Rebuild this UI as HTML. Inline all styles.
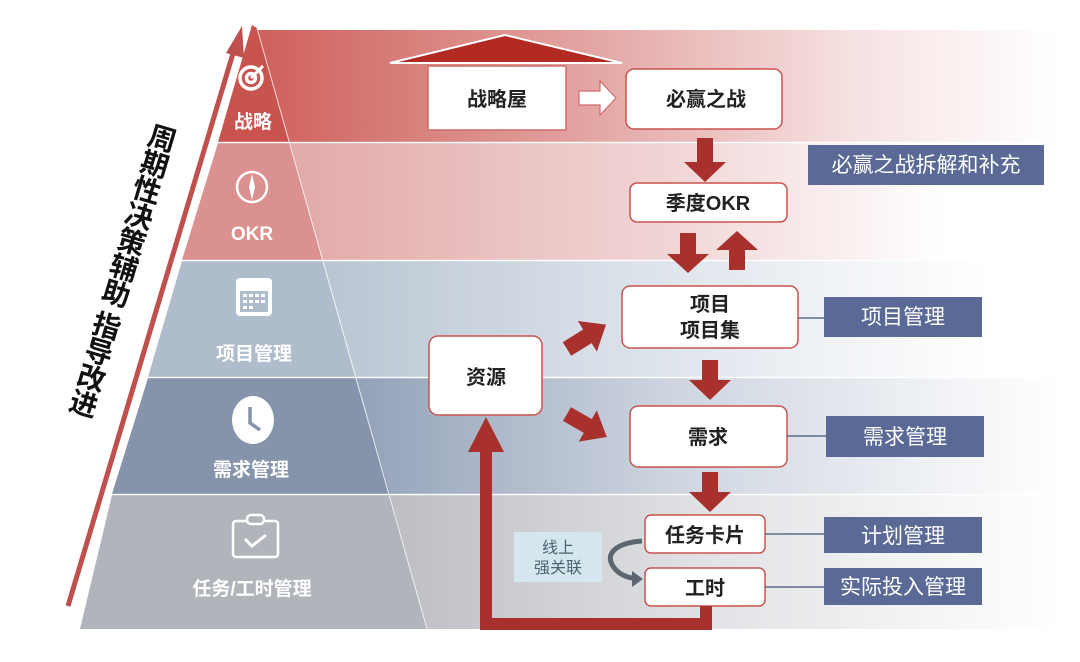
<!DOCTYPE html>
<html><head><meta charset="utf-8"><style>
html,body{margin:0;padding:0;background:#fff}
svg{display:block}
text{font-family:"Liberation Sans","Noto Sans CJK SC",sans-serif;font-weight:bold}
</style></head><body>
<svg width="1080" height="662" viewBox="0 0 1080 662" xmlns="http://www.w3.org/2000/svg">
<defs>
<linearGradient id="g1" x1="0" x2="1"><stop offset="0" stop-color="#cf605b"/><stop offset="0.35" stop-color="#df9a97"/><stop offset="0.75" stop-color="#f6e3e3"/><stop offset="1" stop-color="#fff"/></linearGradient>
<linearGradient id="g2" x1="0" x2="1"><stop offset="0" stop-color="#e2a9a8"/><stop offset="0.5" stop-color="#f1d6d6"/><stop offset="0.85" stop-color="#fff"/></linearGradient>
<linearGradient id="g3" x1="0" x2="1"><stop offset="0" stop-color="#b9c5d2"/><stop offset="0.5" stop-color="#e2e7ee"/><stop offset="0.9" stop-color="#fff"/></linearGradient>
<linearGradient id="g4" x1="0" x2="1"><stop offset="0" stop-color="#93a1b8"/><stop offset="0.45" stop-color="#ced5e0"/><stop offset="1" stop-color="#fff"/></linearGradient>
<linearGradient id="g5" x1="0" x2="1"><stop offset="0" stop-color="#bcbec4"/><stop offset="0.5" stop-color="#e3e4e7"/><stop offset="1" stop-color="#fff"/></linearGradient>
</defs>
<polygon points="257,30 1060,30 1060,142 290,142" fill="url(#g1)"/>
<rect x="290" y="143" width="770" height="117" fill="url(#g2)"/>
<rect x="320" y="261" width="740" height="116" fill="url(#g3)"/>
<rect x="355" y="378" width="705" height="116" fill="url(#g4)"/>
<rect x="390" y="495" width="670" height="134" fill="url(#g5)"/>
<polygon points="252,25 257,28 290,142 218,142" fill="#c9534f"/>
<polygon points="218,143 290,143 322,260 182,260" fill="#da9190"/>
<polygon points="182,261 322,261 355,377 148,377" fill="#aebccb"/>
<polygon points="148,378 355,378 390,494 112,494" fill="#8593ab"/>
<polygon points="112,495 390,495 427,629 80,629" fill="#b1b4bb"/>
<line x1="257" y1="28" x2="427" y2="629" stroke="#fff" stroke-width="1" opacity="0.8"/>
<g stroke="#fff" stroke-width="1.5" opacity="0.8"><line x1="218" y1="142.5" x2="1060" y2="142.5"/><line x1="182" y1="260.5" x2="900" y2="260.5"/><line x1="148" y1="377.5" x2="1000" y2="377.5"/><line x1="112" y1="494.5" x2="1060" y2="494.5"/></g>
<line x1="68" y1="606" x2="234" y2="50" stroke="#c0504d" stroke-width="5"/>
<polygon points="242,26 244,58 226,53" fill="#c0504d"/>
<text transform="translate(165,124) rotate(16.5)" font-size="28" fill="#111" style="writing-mode:vertical-rl;letter-spacing:-1px">周期性决策辅助 指导改进</text>
<g fill="none" stroke="#fff" stroke-width="3.5"><circle cx="251" cy="78" r="11"/><circle cx="251" cy="78" r="4.5"/></g>
<line x1="251" y1="78" x2="263" y2="66" stroke="#fff" stroke-width="3"/>
<text x="253" y="128" font-size="19" fill="#fff" text-anchor="middle">战略</text>
<circle cx="252" cy="187" r="15" fill="none" stroke="#fff" stroke-width="2.5"/>
<polygon points="252,174 255,187 252,200 249,187" fill="#fff"/>
<text x="252" y="240" font-size="19" fill="#fff" text-anchor="middle">OKR</text>
<rect x="236" y="278" width="36" height="38" rx="4" fill="#fff"/>
<g fill="#aebccb"><rect x="240" y="291" width="28" height="21"/></g>
<g fill="#fff"><rect x="243" y="294" width="4" height="3"/><rect x="249" y="294" width="4" height="3"/><rect x="255" y="294" width="4" height="3"/><rect x="261" y="294" width="4" height="3"/><rect x="243" y="300" width="4" height="3"/><rect x="249" y="300" width="4" height="3"/><rect x="255" y="300" width="4" height="3"/><rect x="261" y="300" width="4" height="3"/><rect x="243" y="306" width="4" height="3"/><rect x="249" y="306" width="4" height="3"/></g>
<text x="254" y="360" font-size="19" fill="#fff" text-anchor="middle">项目管理</text>
<ellipse cx="253" cy="420" rx="21" ry="24" fill="#fff"/>
<polyline points="250,407 250,423 260,430" fill="none" stroke="#8593ab" stroke-width="3.5"/>
<text x="251" y="476" font-size="19" fill="#fff" text-anchor="middle">需求管理</text>
<rect x="233" y="521" width="45" height="36" rx="3" fill="none" stroke="#fff" stroke-width="2.5"/>
<rect x="247" y="515" width="17" height="9" rx="4" fill="#b1b4bb" stroke="#fff" stroke-width="2.5"/>
<polyline points="245,539 252,546 266,535" fill="none" stroke="#fff" stroke-width="3"/>
<text x="252" y="595" font-size="19" fill="#fff" text-anchor="middle">任务/工时管理</text>
<polygon points="390,63 505,35 622,63" fill="#b22a22" stroke="#fff" stroke-width="2"/>
<rect x="428" y="66" width="138" height="64" fill="#fff" stroke="#d06b68" stroke-width="1.5"/>
<text x="497" y="106" font-size="20" fill="#222" text-anchor="middle">战略屋</text>
<polygon points="579,91 600,91 600,81 616,98 600,115 600,105 579,105" fill="#fff" stroke="#d06b68" stroke-width="1.2"/>
<g fill="#fff" stroke="#c9534f" stroke-width="1.5">
<rect x="626" y="69" width="156" height="60" rx="8"/>
<rect x="630" y="183" width="157" height="39" rx="7"/>
<rect x="622" y="286" width="176" height="62" rx="8"/>
<rect x="429" y="336" width="113" height="79" rx="9"/>
<rect x="630" y="406" width="157" height="61" rx="8"/>
<rect x="645" y="515" width="120" height="38" rx="6"/>
<rect x="645" y="568" width="120" height="38" rx="6"/>
</g>
<g font-size="20" fill="#222" text-anchor="middle">
<text x="706" y="106">必赢之战</text>
<text x="708" y="210">季度OKR</text>
<text x="710" y="311">项目</text>
<text x="710" y="337">项目集</text>
<text x="486" y="384">资源</text>
<text x="708" y="444">需求</text>
<text x="705" y="542">任务卡片</text>
<text x="705" y="595">工时</text>
</g>
<g fill="#a8312d">
<polygon points="697,138 713,138 713,162 726,162 705,182 684,162 697,162"/>
<polygon points="680,233 696,233 696,254 709,254 688,273 667,254 680,254"/>
<polygon points="729,270 745,270 745,250 758,250 737,231 716,250 729,250"/>
<polygon points="702,360 718,360 718,380 731,380 710,400 689,380 702,380"/>
<polygon points="702,472 718,472 718,492 731,492 710,512 689,492 702,492"/>
<polygon transform="translate(567,349) rotate(-32)" points="0,-8 24,-8 24,-18 46,0 24,18 24,8 0,8"/>
<polygon transform="translate(567,414) rotate(30)" points="0,-8 24,-8 24,-18 46,0 24,18 24,8 0,8"/>
<polygon points="480,628 480,452 468,452 486,417 504,452 492,452 492,618 700,618 700,606 712,606 712,630 480,630"/>
</g>
<rect x="514" y="532" width="88" height="50" fill="#d5e7ee"/>
<text x="558" y="553" font-size="16" fill="#4d6373" text-anchor="middle" style="font-weight:normal">线上</text>
<text x="558" y="573" font-size="16" fill="#4d6373" text-anchor="middle" style="font-weight:normal">强关联</text>
<path d="M642,541 C615,543 602,555 616,570 C622,576 630,578 634,578" fill="none" stroke="#5c6670" stroke-width="5"/>
<polygon points="632,571 643,579 632,587" fill="#5c6670"/>
<g stroke="#5d6b8c" stroke-width="1.5"><line x1="798" y1="318" x2="824" y2="318"/><line x1="787" y1="436" x2="826" y2="436"/><line x1="765" y1="534" x2="824" y2="534"/><line x1="765" y1="587" x2="824" y2="587"/></g>
<g fill="#5a6995">
<rect x="808" y="145" width="236" height="40"/>
<rect x="824" y="297" width="158" height="40"/>
<rect x="826" y="416" width="158" height="41"/>
<rect x="824" y="517" width="158" height="36"/>
<rect x="824" y="568" width="158" height="37"/>
</g>
<g font-size="21" fill="#fff" text-anchor="middle">
<text x="926" y="172" style="font-weight:normal">必赢之战拆解和补充</text>
<text x="903" y="324" style="font-weight:normal">项目管理</text>
<text x="905" y="444" style="font-weight:normal">需求管理</text>
<text x="903" y="543" style="font-weight:normal">计划管理</text>
<text x="903" y="594" style="font-weight:normal">实际投入管理</text>
</g>
</svg>
</body></html>
